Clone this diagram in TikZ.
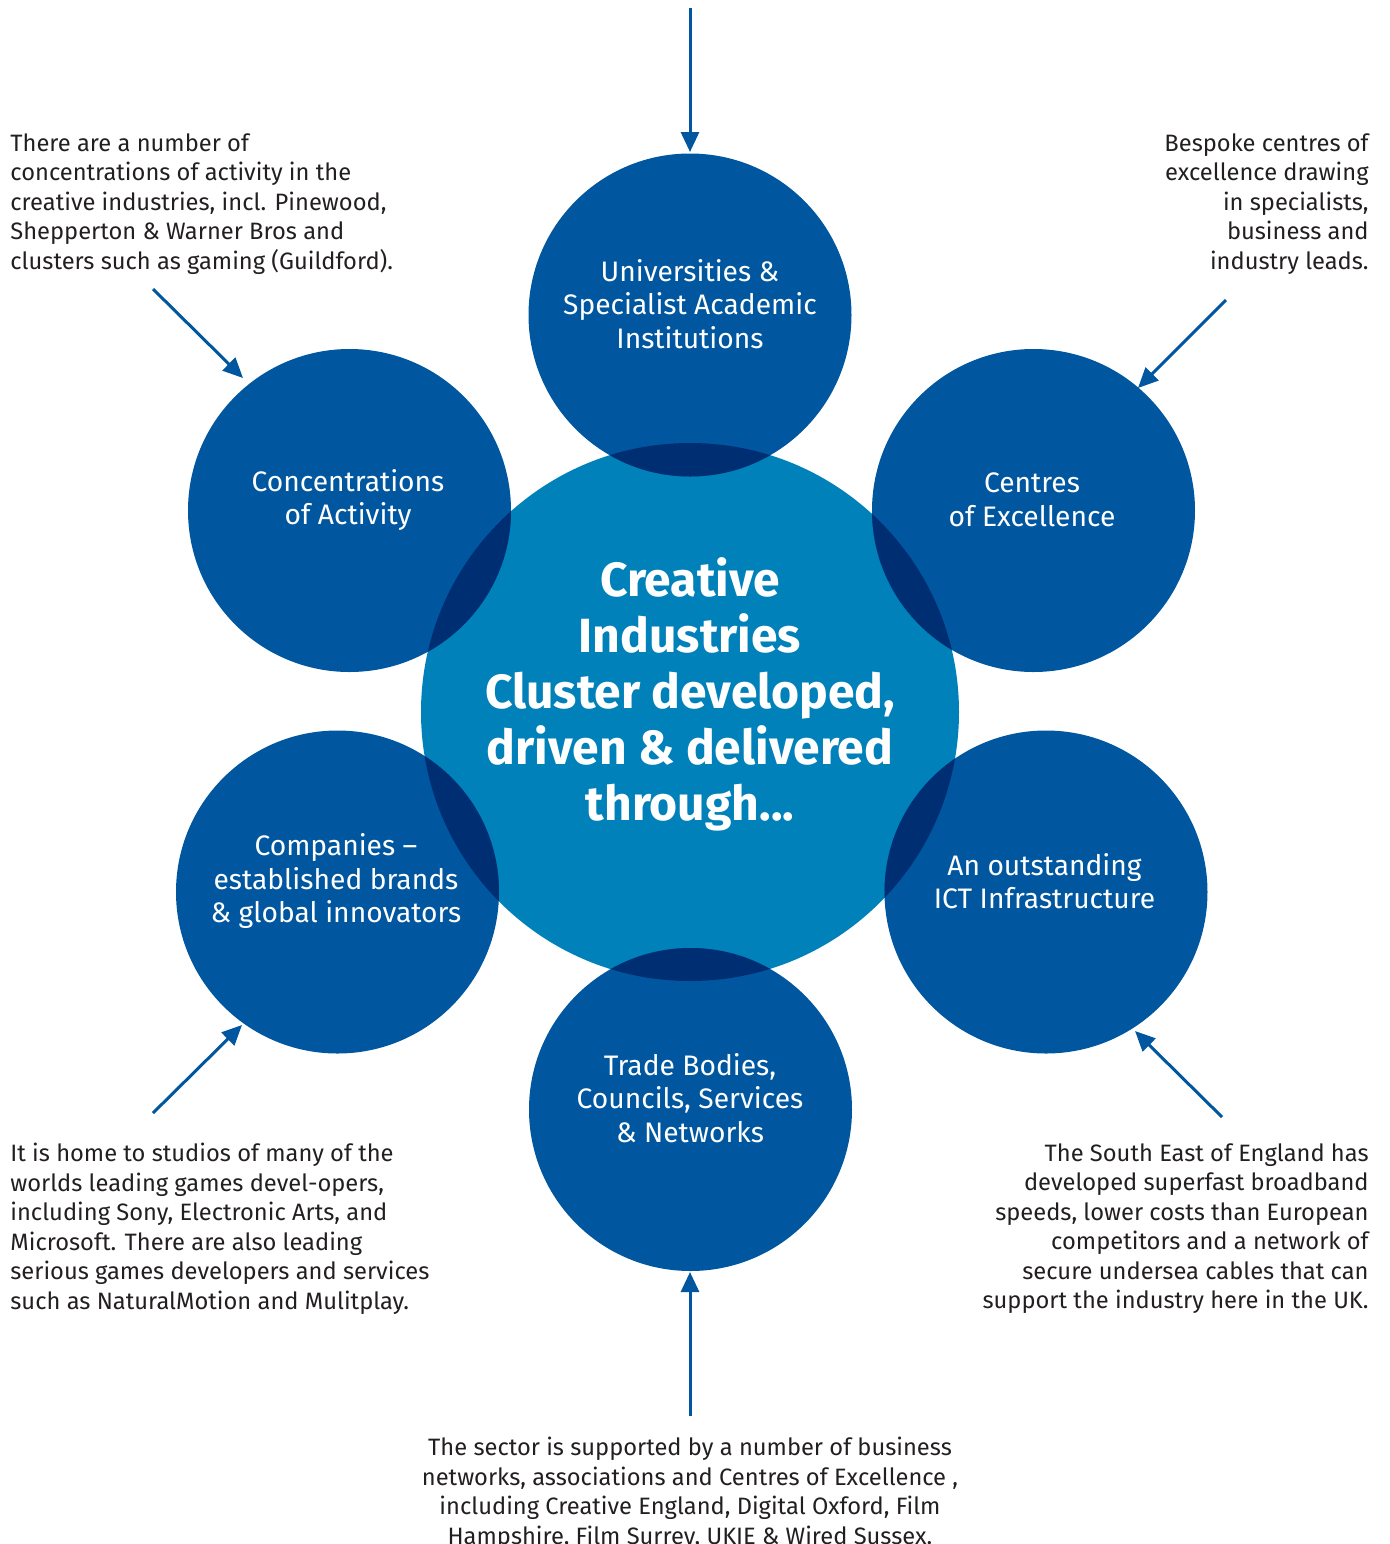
\documentclass[tikz,border=0pt]{standalone}
\usepackage{fontspec}
\setmainfont{Fira Sans}
\usetikzlibrary{arrows.meta}
\definecolor{ringblue}{HTML}{0057A0}
\definecolor{hubblue}{HTML}{0081B9}
\definecolor{overlapblue}{HTML}{002E73}
\definecolor{bodyink}{HTML}{231F20}
\tikzset{
  outer/.style={circle, fill=ringblue, draw=none, inner sep=0pt, minimum size=161.5pt},
  hub/.style={circle, fill=hubblue, draw=none, inner sep=0pt, minimum size=269pt},
  ringlabel/.style={text=white, align=center, inner sep=0pt, font=\fontsize{14.1}{16.75}\selectfont},
  hublabel/.style={text=white, align=center, inner sep=0pt, font=\fontsize{24}{28}\selectfont\bfseries},
  note/.style={text=bodyink, inner sep=0pt, font=\fontsize{11.85}{14.75}\selectfont},
  pointer/.style={draw=ringblue, line width=1.5pt, -{Triangle[length=10pt,width=9pt]}}
}
\begin{document}
\begin{tikzpicture}[x=0.5pt,y=-0.5pt]
\useasboundingbox (0,0) rectangle (1389,1544);

% hub and the six surrounding circles
\node[hub] (hub) at (690,712) {};
\node[outer] (uni) at (690,315) {};
\node[outer] (conc) at (349.5,510.5) {};
\node[outer] (coe) at (1033.5,510.5) {};
\node[outer] (comp) at (337.5,892) {};
\node[outer] (ict) at (1046,892) {};
\node[outer] (trade) at (690.5,1109.5) {};

% darker lens where each circle overlaps the hub
\begin{scope}
  \clip (hub.center) circle[radius=134.5pt];
  \foreach \c in {uni,conc,coe,comp,ict,trade}
    \fill[overlapblue] (\c.center) circle[radius=80.75pt];
\end{scope}

% circle captions
\node[hublabel] (hubtxt) at (690,694) {Creative\\Industries\\Cluster developed,\\driven \& delivered\\through...};
\node[ringlabel] (unitxt) at (690,304) {Universities \&\\Specialist Academic\\Institutions};
\node[ringlabel] (conctxt) at (348,500) {Concentrations\\of Activity};
\node[ringlabel] (coetxt) at (1032,500) {Centres\\of Excellence};
\node[ringlabel] (comptxt) at (336,881) {Companies –\\established brands\\\& global innovators};
\node[ringlabel] (icttxt) at (1044.5,881) {An outstanding\\ICT Infrastructure};
\node[ringlabel] (tradetxt) at (690,1098) {Trade Bodies,\\Councils, Services\\\& Networks};

% explanatory notes
\node[note, align=left, anchor=north west] (ntl) at (10,133) {There are a number of\\concentrations of activity in the\\creative industries, incl. Pinewood,\\Shepperton \& Warner Bros and\\clusters such as gaming (Guildford).};
\node[note, align=right, anchor=north east] (ntr) at (1369,133) {Bespoke centres of\\excellence drawing\\in specialists,\\business and\\industry leads.};
\node[note, align=left, anchor=north west] (nbl) at (10,1143) {It is home to studios of many of the\\worlds leading games devel-opers,\\including Sony, Electronic Arts, and\\Microsoft. There are also leading\\serious games developers and services\\such as NaturalMotion and Mulitplay.};
\node[note, align=right, anchor=north east] (nbr) at (1369,1143) {The South East of England has\\developed superfast broadband\\speeds, lower costs than European\\competitors and a network of\\secure undersea cables that can\\support the industry here in the UK.};
\node[note, align=center, anchor=north] (nb) at (690,1437) {The sector is supported by a number of business\\networks, associations and Centres of Excellence ,\\including Creative England, Digital Oxford, Film\\Hampshire, Film Surrey, UKIE \& Wired Sussex.};

% pointers
\coordinate (ptop) at (690,8);      \coordinate (etop) at (690,152);
\coordinate (ptl) at (153,289);     \coordinate (etl) at (243,378);
\coordinate (ptr) at (1226,300);    \coordinate (etr) at (1138,388);
\coordinate (pbl) at (153,1113);    \coordinate (ebl) at (242,1025);
\coordinate (pbr) at (1222,1117);   \coordinate (ebr) at (1135,1031);
\coordinate (pb) at (690,1416);     \coordinate (eb) at (690,1272);
\draw[pointer] (ptop) -- (etop);
\draw[pointer] (ptl) -- (etl);
\draw[pointer] (ptr) -- (etr);
\draw[pointer] (pbl) -- (ebl);
\draw[pointer] (pbr) -- (ebr);
\draw[pointer] (pb) -- (eb);
\end{tikzpicture}
\end{document}
